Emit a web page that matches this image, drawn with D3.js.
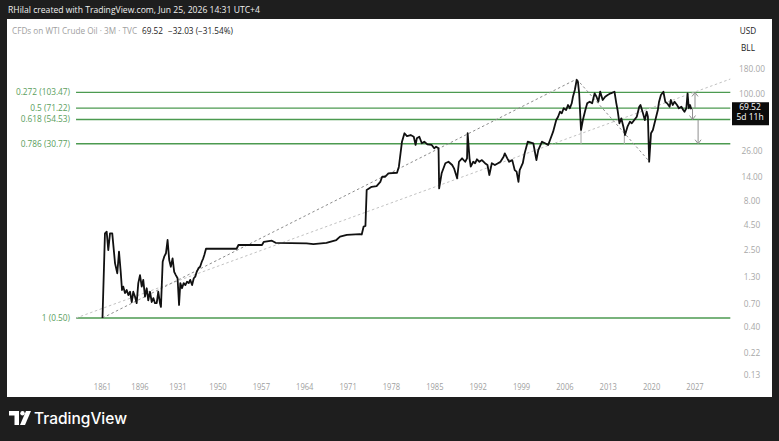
<!DOCTYPE html>
<html>
<head>
<meta charset="utf-8">
<script src="https://cdn.jsdelivr.net/npm/d3@7"></script>
<style>
  body { margin: 0; background: #1e1e1e; overflow: hidden; }
  svg { display: block; font-family: "Open Sans", sans-serif; }
</style>
</head>
<body>
<svg id="chart" width="779" height="441"></svg>
<script>
// ---- data (WTI, annual bars then quarterly bars) ----
var years = [1861,1863.3,1864.9,1866.4,1868,1870.1,1872.7,1874.8,1876.4,1878,1879.2,1880.4,1882,1883.6,1885.1,1886.7,1888.3,1889.7,1891.3,1892.9,1894.4,1896,1897.6,1899,1900.6,1902.2,1903.6,1905.2,1906.8,1908.3,1909.8,1911.4,1912.8,1914.4,1915.3,1916.9,1918.3,1919.9,1921.4,1922.9,1924.4,1926,1927.5,1929,1930.6,1931.5,1932.1,1932.9,1933.7,1934.5,1935.3,1936.1,1936.8,1937.7,1938.5,1939.2,1939.9,1940.7,1941.5,1942.3,1943,1943.5,1944.3,1953,1953.3,1957.1,1957.4,1958.7,1959.3,1964.3,1965.4,1967.5,1969.1,1969.7,1970.8,1972.9,1973.2,1973.5,1973.8,1974,1974.8,1975.6,1976.2,1976.5,1977,1977.5,1978.9,1979.2,1979.7,1980.1,1980.5,1981.1,1981.6,1981.9,1982.1,1982.5,1982.9,1983.3,1983.8,1984.5,1984.9,1985.2,1985.6,1985.7,1986.1,1986.7,1987.2,1987.8,1988.1,1988.6,1988.9,1989.4,1989.9,1990.2,1990.3,1990.6,1990.8,1991.2,1991.5,1991.8,1992.2,1992.6,1993.1,1993.5,1993.8,1994.2,1994.7,1995.2,1995.6,1996.1,1996.3,1996.7,1997,1997.5,1997.9,1998.2,1998.5,1998.7,1999.2,1999.5,2000,2000.9,2001.4,2001.7,2002.3,2002.8,2003.3,2003.6,2004.1,2004.6,2004.9,2005.2,2005.5,2005.8,2006.2,2006.5,2006.8,2007.1,2007.3,2007.6,2007.9,2008.1,2008.3,2008.6,2008.9,2009.3,2009.6,2010,2010.4,2010.8,2011.1,2011.4,2011.7,2012.1,2012.5,2012.9,2013.4,2014,2014.3,2014.5,2014.8,2015.1,2015.5,2015.7,2016.1,2016.5,2016.8,2017.2,2017.6,2018,2018.2,2018.6,2018.9,2019.2,2019.4,2019.6,2019.9,2020.2,2020.6,2021,2021.2,2021.5,2021.9,2022.2,2022.5,2022.9,2023.1,2023.4,2023.7,2024.1,2024.4,2024.8,2025.1,2025.3,2025.6,2025.8,2026,2026.2,2026.4];
var prices = [0.50,3.70,3.85,2.49,3.70,3.70,1.82,1.44,2.40,1.49,0.97,1.05,0.90,0.97,0.86,0.93,0.73,0.93,0.83,0.71,1.14,1.38,1.05,1.23,0.83,1.01,0.76,0.93,0.73,0.80,0.71,0.71,0.93,0.71,0.65,1.89,2.13,2.31,3.16,1.97,1.68,2.05,1.49,1.38,1.28,0.68,1.14,1.01,1.14,1.09,1.18,1.14,1.23,1.09,1.28,1.33,1.49,1.62,1.68,1.89,2.05,2.22,2.57,2.57,2.81,2.81,3.03,3.11,2.96,2.92,2.87,2.96,3.16,3.42,3.56,3.64,3.60,4.33,4.40,10.3,11.1,11.3,12.5,14.1,14.1,15.3,15.5,17.9,32.3,39.4,36.9,37.8,36.3,29.9,35.0,36.3,31.1,32.3,30.3,29.9,27.6,28.7,27.6,10.7,15.3,19.4,20.1,18.6,17.2,13.6,20.1,21.8,20.1,21.8,39.4,21.8,17.9,20.1,19.4,21.3,20.1,20.9,19.4,18.6,14.7,19.4,18.6,19.4,20.1,22.6,24.5,21.8,20.1,20.9,16.5,15.9,12.5,16.5,19.4,24.5,32.3,31.1,20.9,26.5,32.3,31.1,29.9,33.6,40.9,53.9,58.3,65.6,63.2,71.1,68.3,76.9,71.1,80.0,93.5,109.6,138.8,133.3,101.3,42.6,53.9,68.3,80.0,83.1,80.0,101.3,93.5,83.1,105.2,86.5,93.5,97.4,101.3,105.2,80.0,68.3,49.9,56.1,44.3,37.8,46.0,51.8,49.9,53.9,58.3,73.8,76.9,63.2,53.9,65.6,58.3,20.1,39.4,42.6,53.9,68.3,83.1,97.4,105.2,83.1,80.0,73.8,86.5,76.9,83.1,76.9,71.1,73.8,68.3,65.6,71.1,101.3,71.1,76.9,69.52];

var xTickYears = [1861,1896,1931,1950,1957,1964,1971,1978,1985,1992,1999,2006,2013,2020,2027];
var xBreaks = [1861,1896,1931,1950,2027];   // axis is bar-indexed: annual bars, then quarterly
var yTicks = [180,100,26,14,8,4.5,2.5,1.3,0.7,0.4,0.22,0.13];

var fibLevels = [0.272,0.5,0.618,0.786,1];
var fibPrices = [103.47,71.22,54.53,30.77,0.50];
var fibSpan = [1836.3,2032.7];

// drawings: [year, price] anchors
var fibDiagonal = [[1836.3,0.50],[2032.7,141.95]];
var riseLine = [[1861,0.50],[2007.9,141.95]];
var fallLine = [[2007.9,141.95],[2019.7,20.0]];
var lowMarks = [[2008.6,42.6],[2015.6,37.8]];
var arrowsUp = [[2027.0,71.22,103.47]];
var arrowsDown = [[2026.6,71.22,54.53],[2027.5,54.53,30.77]];

var lastPrice = 69.52;

// ---- drawing ----
var svg = d3.select("#chart");
var W = 779, H = 441;

svg.append("rect").attr("width", W).attr("height", H).attr("fill", "#1e1e1e");
svg.append("rect").attr("x", 7).attr("y", 19).attr("width", 765).attr("height", 378).attr("fill", "#fff");

var x = d3.scaleLinear().domain(xBreaks).range([102.5, 140, 178, 218, 695]);
var y = d3.scaleLog().domain([0.13, 180]).range([375, 69]);

var green = "#4c9a50";

// fib levels
var fib = svg.append("g");
fibLevels.forEach(function (lv, i) {
  fib.append("line")
    .attr("x1", x(fibSpan[0])).attr("x2", x(fibSpan[1]))
    .attr("y1", y(fibPrices[i])).attr("y2", y(fibPrices[i]))
    .attr("stroke", green).attr("stroke-width", 1.3);
  fib.append("text")
    .attr("x", x(fibSpan[0]) - 6).attr("y", y(fibPrices[i]))
    .attr("dy", "0.35em").attr("text-anchor", "end")
    .attr("font-size", 8.3).attr("fill", "#5a9e5c")
    .text(lv + " (" + fibPrices[i].toFixed(2) + ")");
});

// dashed trend drawings
function seg(pts, color) {
  svg.append("line")
    .attr("x1", x(pts[0][0])).attr("y1", y(pts[0][1]))
    .attr("x2", x(pts[1][0])).attr("y2", y(pts[1][1]))
    .attr("stroke", color).attr("stroke-width", 1)
    .attr("stroke-dasharray", "2.5,2.5");
}
seg(fibDiagonal, "#c2c2c2");
seg(riseLine, "#8c8c8c");
seg(fallLine, "#8c8c8c");

lowMarks.forEach(function (d) {
  svg.append("line")
    .attr("x1", x(d[0])).attr("x2", x(d[0]))
    .attr("y1", y(d[1])).attr("y2", y(fibPrices[3]))
    .attr("stroke", "#b5b5b5").attr("stroke-width", 1.2);
});

// arrows
function arrow(d, up) {
  var ax = x(d[0]), y0 = y(d[1]), y1 = y(d[2]);
  var s = up ? 1 : -1;
  svg.append("line").attr("x1", ax).attr("x2", ax).attr("y1", y0).attr("y2", y1)
    .attr("stroke", "#8f8f8f").attr("stroke-width", 1);
  svg.append("path")
    .attr("d", "M" + (ax - 3) + "," + (y1 + 4 * s) + "L" + ax + "," + y1 + "L" + (ax + 3) + "," + (y1 + 4 * s))
    .attr("fill", "none").attr("stroke", "#8f8f8f").attr("stroke-width", 1);
}
arrowsUp.forEach(function (d) { arrow(d, true); });
arrowsDown.forEach(function (d) { arrow(d, false); });

// price series
var series = d3.zip(years, prices);
svg.append("path")
  .datum(series)
  .attr("d", d3.line().x(function (d) { return x(d[0]); }).y(function (d) { return y(d[1]); }))
  .attr("fill", "none").attr("stroke", "#111").attr("stroke-width", 1.8)
  .attr("stroke-linejoin", "round");

// price axis
svg.append("g").selectAll("text").data(yTicks).enter().append("text")
  .attr("x", 752).attr("y", function (d) { return y(d); }).attr("dy", "0.35em")
  .attr("text-anchor", "middle").attr("font-size", 8.3).attr("fill", "#a8a8a8")
  .text(function (d) { return d.toFixed(2); });

// last price badge
var ly = y(lastPrice);
svg.append("rect").attr("x", 732).attr("y", ly - 7).attr("width", 37).attr("height", 23).attr("fill", "#0b0b0b");
svg.append("text").attr("x", 750).attr("y", ly + 1).attr("text-anchor", "middle")
  .attr("font-size", 8.5).attr("fill", "#fff").text(lastPrice.toFixed(2));
svg.append("text").attr("x", 750).attr("y", ly + 11).attr("text-anchor", "middle")
  .attr("font-size", 8.5).attr("fill", "#fff").text("5d 11h");

// time axis
svg.append("g").selectAll("text").data(xTickYears).enter().append("text")
  .attr("x", function (d) { return x(d); }).attr("y", 390)
  .attr("text-anchor", "middle").attr("font-size", 8.6).attr("fill", "#a0a0a0")
  .attr("transform", function (d) { return "translate(" + x(d) + ",0) scale(0.88,1) translate(" + (-x(d)) + ",0)"; })
  .text(function (d) { return d; });

// header texts
svg.append("text").attr("x", 8).attr("y", 13).attr("font-size", 8.6).attr("fill", "#f0f0f0")
  .text("RHilal created with TradingView.com, Jun 25, 2026 14:31 UTC+4");

var hdr = svg.append("text").attr("x", 12).attr("y", 34).attr("font-size", 8.2);
hdr.append("tspan").attr("fill", "#a0a0a0").text("CFDs on WTI Crude Oil · 3M · TVC");
hdr.append("tspan").attr("fill", "#222").attr("dx", 5).text("69.52");
hdr.append("tspan").attr("fill", "#222").attr("dx", 5).text("−32.03 (−31.54%)");

svg.append("text").attr("x", 748).attr("y", 34).attr("text-anchor", "middle")
  .attr("font-size", 8.2).attr("fill", "#222").text("USD");
svg.append("text").attr("x", 748).attr("y", 51).attr("text-anchor", "middle")
  .attr("font-size", 8.2).attr("fill", "#222").text("BLL");

// footer logo
var logo = svg.append("g").attr("fill", "#fff");
logo.append("path").attr("d", "M9,411H19V425H14.5V415.5H9Z");
logo.append("circle").attr("cx", 22.5).attr("cy", 413.2).attr("r", 2.2);
logo.append("path").attr("d", "M26,411H31L25,425H20Z");
svg.append("text").attr("x", 34).attr("y", 424).attr("font-size", 15.5)
  .attr("font-family", "Inter, Roboto, sans-serif").attr("font-weight", 500)
  .attr("fill", "#fff").text("TradingView");
</script>
</body>
</html>
